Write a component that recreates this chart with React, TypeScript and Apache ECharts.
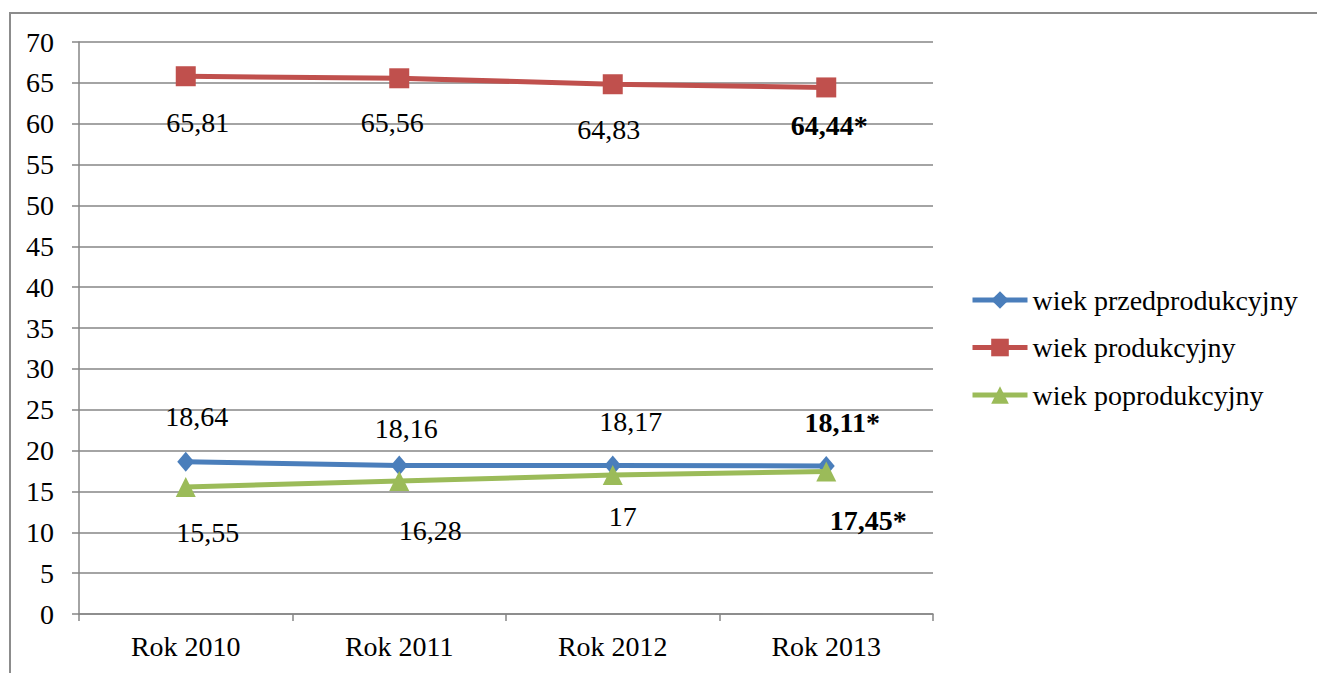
import React, { useEffect, useRef } from 'react';
import * as echarts from 'echarts';

const categories = ['Rok 2010', 'Rok 2011', 'Rok 2012', 'Rok 2013'];
const seriesNames = ['wiek przedprodukcyjny', 'wiek produkcyjny', 'wiek poprodukcyjny'];
const przedprodukcyjny = [18.64, 18.16, 18.17, 18.11];
const produkcyjny = [65.81, 65.56, 64.83, 64.44];
const poprodukcyjny = [15.55, 16.28, 17, 17.45];
const provisional = [false, false, false, true];
const yMin = 0;
const yMax = 70;
const yStep = 5;

const FONT = 'Liberation Serif';
const FS = 28;
const colors = ['#4A7EBB', '#C0504D', '#9BBB59'];
const symbols = ['diamond', 'rect', 'triangle'];
const symbolSizes: any[] = [[17, 20], 20, 20];
const labelOffsets = [
  [[11, -45], [7, -37], [18, -44], [16, -44]],
  [[12, 46], [-7, 44], [-4, 45], [3, 38]],
  [[22, 46], [31, 50], [10, 41], [42, 49]],
];

function fmt(v: number, star: boolean) {
  return String(v).replace('.', ',') + (star ? '*' : '');
}

export default function App() {
  const ref = useRef<HTMLDivElement>(null);
  useEffect(() => {
    if (!ref.current) return;
    const chart = echarts.init(ref.current, undefined, { renderer: 'svg' });
    const allData = [przedprodukcyjny, produkcyjny, poprodukcyjny];
    const series = allData.map((vals, si) => ({
      name: seriesNames[si],
      type: 'line',
      symbol: symbols[si],
      symbolSize: symbolSizes[si],
      showAllSymbol: true,
      lineStyle: { color: colors[si], width: 5 },
      itemStyle: { color: colors[si] },
      emphasis: { disabled: true },
      z: 2 + si,
      data: vals.map((v, i) => ({
        value: v,
        label: {
          show: true,
          position: 'inside',
          offset: labelOffsets[si][i],
          color: '#000',
          fontFamily: FONT,
          fontSize: FS,
          fontWeight: provisional[i] ? 'bold' : 'normal',
          align: 'center',
          verticalAlign: 'middle',
          formatter: () => fmt(v, provisional[i]),
        },
      })),
      label: {
        show: true,
        color: '#000',
        fontFamily: FONT,
        fontSize: FS,
      },
    }));
    chart.setOption({
      animation: false,
      backgroundColor: '#fff',
      graphic: [
        {
          type: 'rect',
          shape: { x: 10, y: 13, width: 1400, height: 800 },
          style: { fill: 'none', stroke: '#8c8c8c', lineWidth: 2 },
          silent: true,
          z: -1,
        },
      ],
      grid: { left: 79, right: 384, top: 42, bottom: 59 },
      legend: {
        data: seriesNames,
        orient: 'vertical',
        left: 970,
        top: 286,
        padding: 0,
        itemWidth: 55,
        itemHeight: 22,
        itemGap: 19.5,
        lineStyle: { width: 5 },
        textStyle: { fontFamily: FONT, fontSize: FS, color: '#000' },
        selectedMode: false,
      },
      xAxis: {
        type: 'category',
        data: categories,
        boundaryGap: true,
        axisLine: { show: true, lineStyle: { color: '#868686', width: 1.5 } },
        axisTick: { show: true, length: 7, alignWithLabel: false, lineStyle: { color: '#868686', width: 1.5 } },
        axisLabel: { color: '#000', fontFamily: FONT, fontSize: FS, margin: 18 },
        splitLine: { show: false },
      },
      yAxis: {
        type: 'value',
        min: yMin,
        max: yMax,
        interval: yStep,
        axisLine: { show: true, lineStyle: { color: '#868686', width: 1.5 } },
        axisTick: { show: true, length: 7, lineStyle: { color: '#868686', width: 1.5 } },
        axisLabel: { color: '#000', fontFamily: FONT, fontSize: FS, margin: 25 },
        splitLine: { show: true, lineStyle: { color: '#868686', width: 1.5 } },
      },
      series,
    });
    return () => chart.dispose();
  }, []);
  return (
    <div
      ref={ref}
      style={{ position: 'fixed', left: 0, top: 0, width: 1317, height: 673, background: '#fff' }}
    />
  );
}
